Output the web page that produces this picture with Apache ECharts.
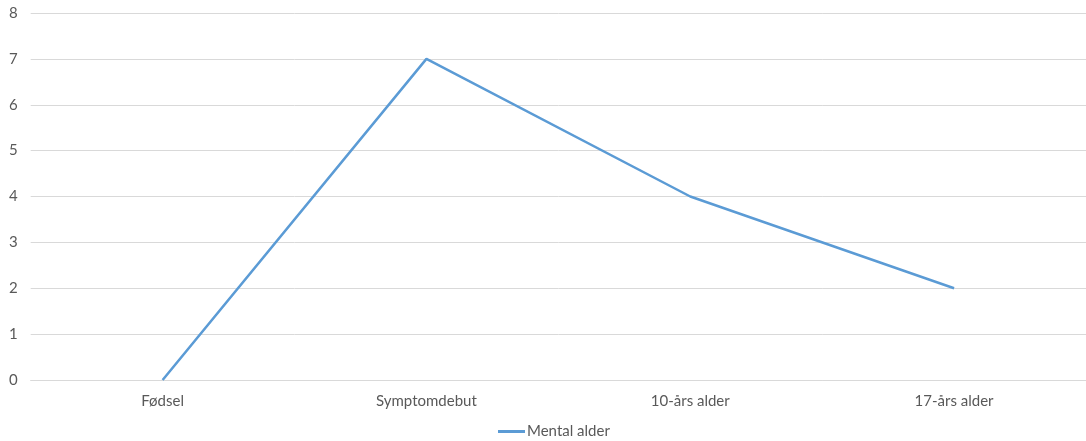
<!DOCTYPE html>
<html><head><meta charset="utf-8">
<script src="https://cdn.jsdelivr.net/npm/echarts@6/dist/echarts.min.js"></script>
<style>html,body{margin:0;padding:0;background:#fff}#c{width:1086px;height:441px}</style>
</head><body><div id="c"></div>
<script>
const categories = ["Fødsel", "Symptomdebut", "10-års alder", "17-års alder"];
const seriesName = "Mental alder";
const values = [0, 7, 4, 2];
const yTicks = { min: 0, max: 8, interval: 1 };

const chart = echarts.init(document.getElementById('c'));
const font = "Lato, 'Open Sans', 'Liberation Sans', sans-serif";
chart.setOption({
  animation: false,
  grid: { left: 30.7, width: 1059, top: 13, bottom: 61, containLabel: false },
  legend: {
    top: 424, left: 498, padding: 0, itemWidth: 27, itemHeight: 3,
    icon: 'rect', itemGap: 10,
    textStyle: { color: '#595959', fontSize: 15, fontFamily: font, padding: [0,0,0,-3] },
    data: [seriesName]
  },
  xAxis: {
    type: 'category', data: categories, boundaryGap: true,
    axisLine: { show: true, lineStyle: { color: '#d9d9d9' } },
    axisTick: { show: false },
    axisLabel: { color: '#595959', fontSize: 15, fontFamily: font, margin: 14 }
  },
  yAxis: {
    type: 'value', min: yTicks.min, max: yTicks.max, interval: yTicks.interval,
    axisLine: { show: false }, axisTick: { show: false },
    axisLabel: { color: '#595959', fontSize: 15, fontFamily: font, margin: 13 },
    splitLine: { lineStyle: { color: '#d9d9d9', width: 1 } }
  },
  series: [{
    name: seriesName, type: 'line', data: values,
    showSymbol: false, symbol: 'none',
    lineStyle: { color: '#5B9BD5', width: 2.5 },
    itemStyle: { color: '#5B9BD5' }
  }]
});
</script></body></html>
